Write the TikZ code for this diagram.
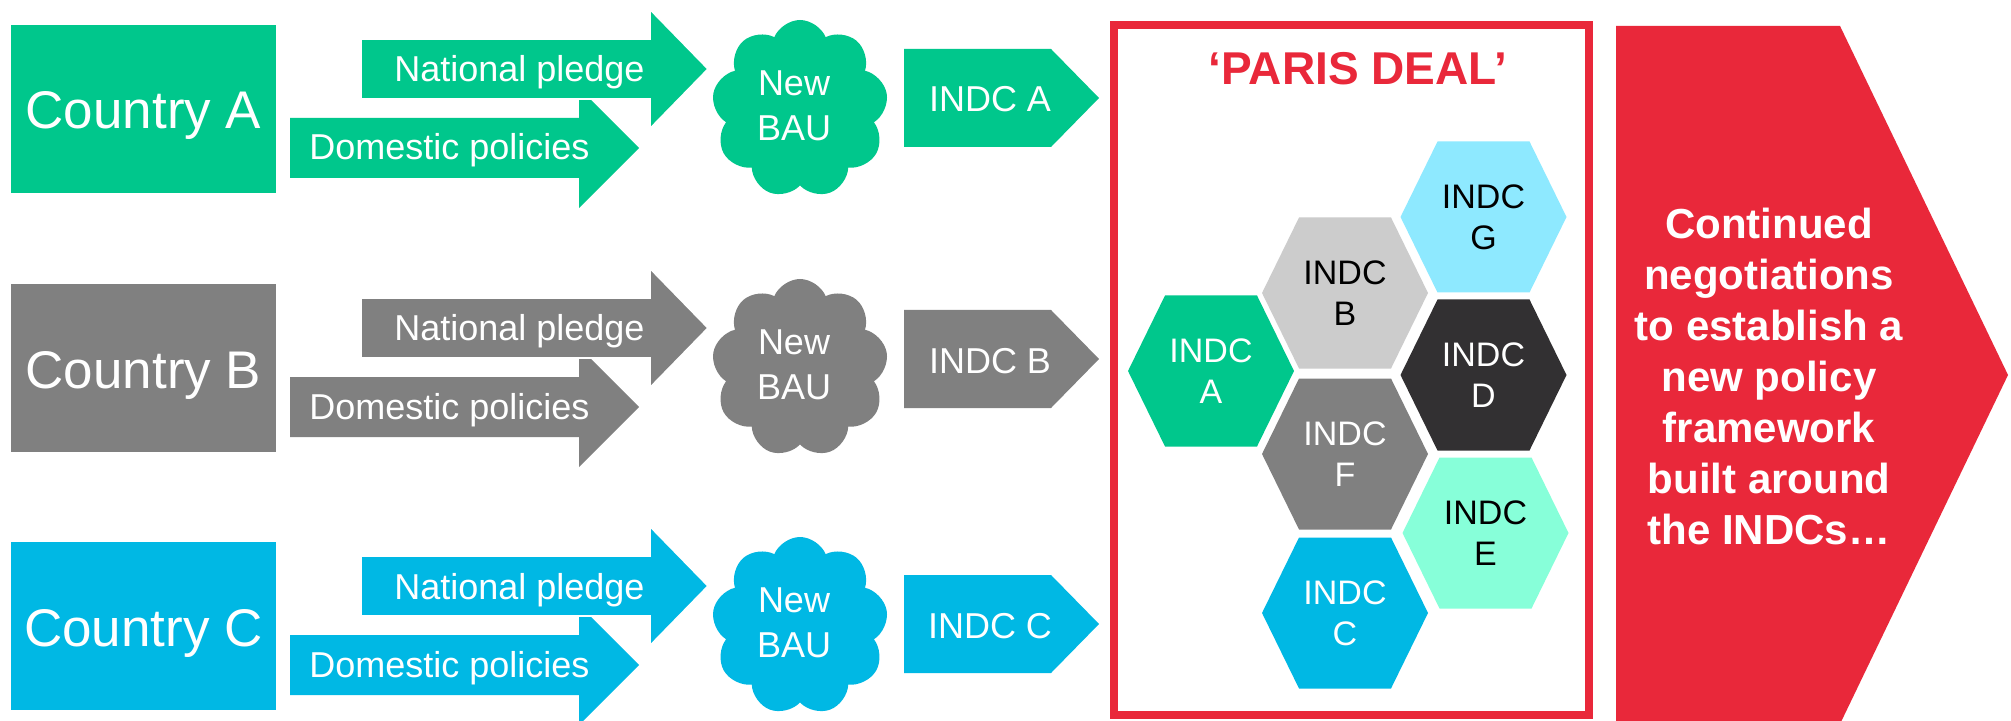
\documentclass[tikz,border=0pt]{standalone}
\usepackage{fontspec}
\setmainfont{Liberation Sans}
\usetikzlibrary{shapes.symbols}
\definecolor{cgreen}{RGB}{0,199,140}
\definecolor{cgrey}{RGB}{128,128,128}
\definecolor{cblue}{RGB}{0,184,228}
\definecolor{cred}{RGB}{233,40,58}
\definecolor{hexB}{RGB}{204,204,204}
\definecolor{hexG}{RGB}{142,233,255}
\definecolor{hexD}{RGB}{50,48,50}
\definecolor{hexE}{RGB}{135,255,217}
\begin{document}
\begin{tikzpicture}[x=0.5pt,y=-0.5pt,
  txt/.style={text=white, inner sep=0pt, font=\fontsize{18}{22.5}\selectfont},
  ctext/.style={text=white, inner sep=0pt, anchor=base, font=\fontsize{26.5}{30}\selectfont},
  hextext/.style={inner sep=0pt, align=center, font=\fontsize{17}{20.5}\selectfont},
  bau/.style={cloud, cloud puffs=9, cloud puff arc=135, cloud ignores aspect,
     minimum width=88pt, minimum height=89pt, inner sep=0pt}]
\useasboundingbox (0,0) rectangle (2011,721);
\fill[white] (0,0) rectangle (2011,721);

\foreach \dy/\dz/\L/\col in {0/0/A/cgreen, 259/261/B/cgrey, 517/526/C/cblue} {
  \begin{scope}[shift={(0,\dy)}]
    \fill[\col] (11,25) rectangle (276,193);
    \node[ctext] (country\L) at (143.5,129) {Country \L};
    \fill[\col] (290,118) -- (579,118) -- (579,88) -- (639,148) -- (579,208) -- (579,178) -- (290,178) -- cycle;
    \node[txt, anchor=base] (dom\L) at (449.5,160) {Domestic policies};
    \filldraw[fill=\col, draw=white, line width=0.8pt] (361,39) -- (650,39) -- (650,9.5) -- (708,69) -- (650,128.5) -- (650,99) -- (361,99) -- cycle;
    \node[txt, anchor=base] (nat\L) at (519.5,82) {National pledge};
    \node[bau, fill=\col] (cloud\L) at (800,109) {};
    \node[txt, align=center] (bau\L) at (794,106) {New\\BAU};
  \end{scope}
  \begin{scope}[shift={(0,\dz)}]
    \fill[\col] (904,49) -- (1051,49) -- (1099,98) -- (1051,147) -- (904,147) -- cycle;
    \node[txt, anchor=base] (indc\L) at (990,112) {INDC \L};
  \end{scope}
}

% Paris deal frame
\draw[cred, line width=4pt] (1114,25) rectangle (1589,715);
\node[font=\bfseries\fontsize{23}{28}\selectfont, text=cred, anchor=base, inner sep=0pt] (paris) at (1358,85) {‘PARIS DEAL’};

% hexagons
\foreach \cx/\cy/\fc/\tc/\L in {1483.5/217/hexG/black/G, 1345/293/hexB/black/B, 1211/371/cgreen/white/A,
    1483.5/375/hexD/white/D, 1345/454/cgrey/white/F, 1485.5/533/hexE/black/E, 1345/613/cblue/white/C} {
  \fill[\fc] ({\cx-83},\cy) -- ({\cx-46},{\cy-75.5}) -- ({\cx+46},{\cy-75.5}) -- ({\cx+83},\cy)
     -- ({\cx+46},{\cy+75.5}) -- ({\cx-46},{\cy+75.5}) -- cycle;
  \node[hextext, text=\tc] (hex\L) at (\cx,\cy) {INDC\\\L};
}

% big red arrow
\fill[cred] (1616,26) -- (1840,26) -- (2008,375) -- (1840,724) -- (1616,724) -- cycle;
\node[text=white, align=center, inner sep=0pt, font=\bfseries\fontsize{21}{25.5}\selectfont] (cont) at (1769,376)
  {Continued\\negotiations\\to establish a\\new policy\\framework\\built around\\the INDCs…};
\end{tikzpicture}
\end{document}
